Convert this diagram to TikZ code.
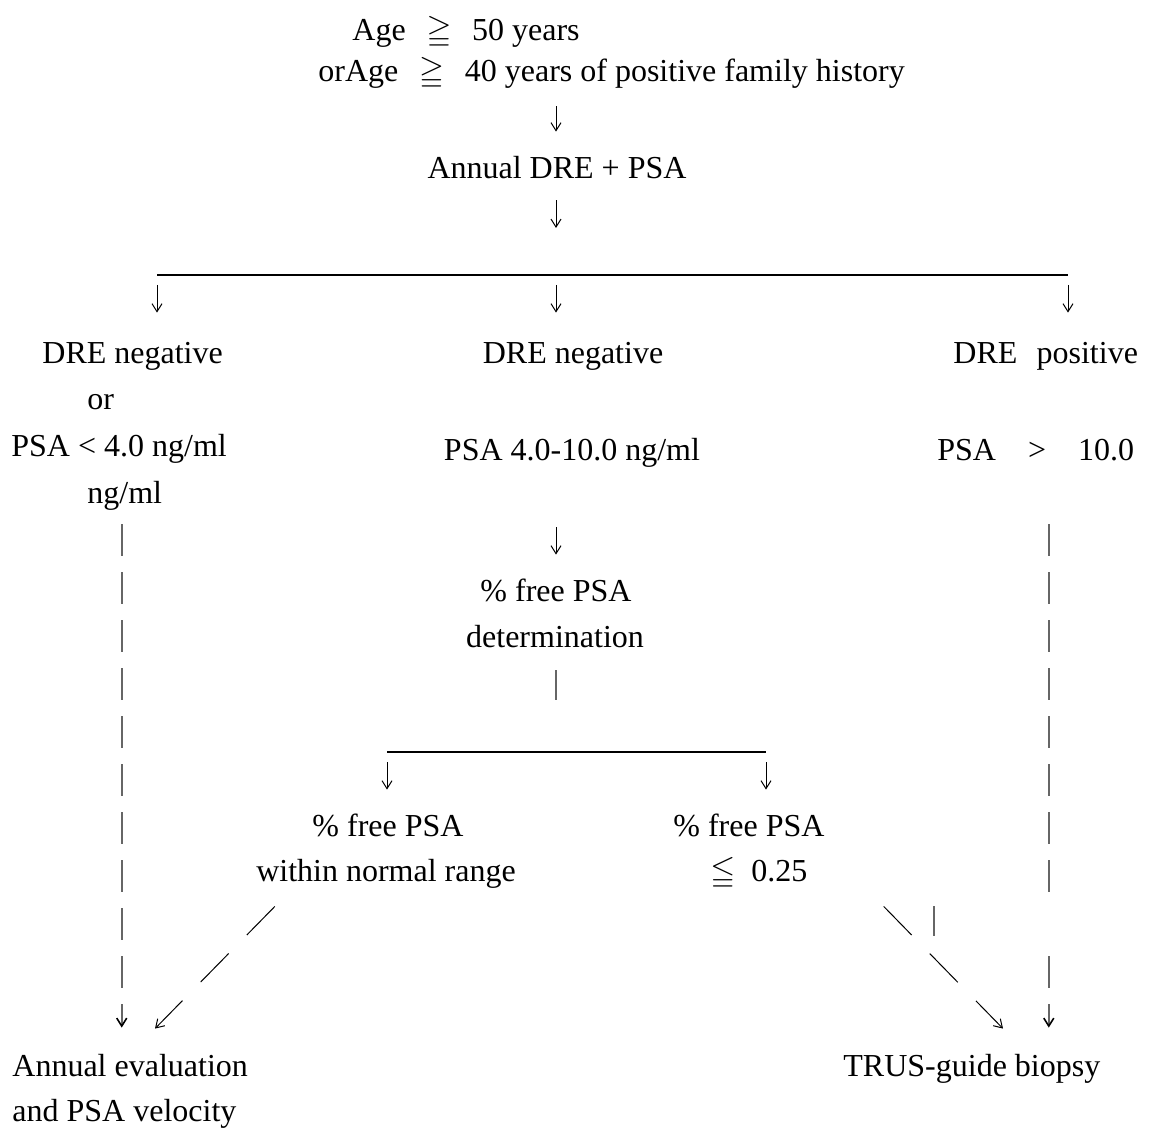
\documentclass[tikz,border=0pt]{standalone}
\usepackage{amssymb}
\usepackage{fontspec}
\setmainfont{Liberation Serif}
\usetikzlibrary{arrows.meta}

\begin{document}
\begin{tikzpicture}[x=0.5pt, y=-0.5pt]
% Définition des styles
    \tikzstyle{txt} = [inner sep=0pt, text height=11pt, text depth=3pt, font=\fontsize{16pt}{19pt}\selectfont]
    \tikzstyle{bus} = [draw, line width=1.3pt]
    \tikzstyle{line} = [draw, line width=0.5pt, -{Straight Barb[length=4pt, width=5pt]}]
    \tikzstyle{vline} = [draw, black!60, line width=0.8pt]
    \tikzstyle{dline} = [vline, dash pattern=on 16pt off 8pt, -{Straight Barb[length=4pt, width=5pt, color=black]}]
    \tikzstyle{diag} = [line, dash pattern=on 20pt off 13pt]

    \useasboundingbox (0,0) rectangle (1150,1133);

    % Critères d'entrée et dépistage annuel
    \node [txt, anchor=base west] (age) at (352,41) {Age\hspace{.65em}$\geqq$\hspace{.65em}50 years};
    \node [txt, anchor=base west] (agefam) at (318,82) {orAge\hspace{.65em}$\geqq$\hspace{.65em}40 years of positive family history};
    \node [txt, anchor=base] (annual) at (557,179) {Annual DRE + PSA};

    % Les trois branches
    \node [txt, anchor=base west] (negL) at (42,364) {DRE negative};
    \node [txt, anchor=base west] (orL) at (87,410) {or};
    \node [txt, anchor=base west] (psaL) at (11,457) {PSA < 4.0 ng/ml};
    \node [txt, anchor=base west] (unitL) at (87,503) {ng/ml};
    \node [txt, anchor=base] (negM) at (573,364) {DRE negative};
    \node [txt, anchor=base] (psaM) at (572,461) {PSA 4.0-10.0 ng/ml};
    \node [txt, anchor=base west] (posR) at (953,364) {DRE\hspace{.6em}positive};
    \node [txt, anchor=base west] (psaR) at (937,460) {PSA\hspace{1em}>\hspace{1em}10.0};

    % Dosage du PSA libre
    \node [txt, anchor=base] (free) at (556,601) {\% free PSA};
    \node [txt, anchor=base] (determ) at (555,647) {determination};
    \node [txt, anchor=base] (normal) at (388,836) {\% free PSA};
    \node [txt, anchor=base] (normalb) at (386,881) {within normal range};
    \node [txt, anchor=base west] (low) at (673,836) {\% free PSA};
    \node [txt, anchor=base west] (lowb) at (710,881) {$\leqq$\hspace{.5em}0.25};

    % Conduites à tenir
    \node [txt, anchor=base west] (evalA) at (12,1076) {Annual evaluation};
    \node [txt, anchor=base west] (evalB) at (12,1121) {and PSA velocity};
    \node [txt, anchor=base west] (biopsy) at (843,1076) {TRUS-guide biopsy};

    % Barres de répartition
    \coordinate (busL) at (157,275);
    \coordinate (busM) at (556,275);
    \coordinate (busR) at (1068,275);
    \coordinate (splitL) at (387,752);
    \coordinate (splitM) at (556,752);
    \coordinate (splitR) at (766,752);
    \coordinate (stray) at (934,906);
    \path [bus] (busL) -- (busR);
    \path [bus] (splitL) -- (splitR);

    % Connexions
    \path [line, shorten <=9pt, shorten >=12.5pt] (busM |- agefam.south) -- (busM |- annual.north);
    \path [line, shorten <=7.5pt, shorten >=23.5pt] (busM |- annual.south) -- (busM);
    \path [line, shorten <=5pt, shorten >=14.5pt] (busL) -- (busL |- negL.north);
    \path [line, shorten <=5pt, shorten >=14.5pt] (busM) -- (busM |- negM.north);
    \path [line, shorten <=5pt, shorten >=14.5pt] (busR) -- (busR |- posR.north);
    \path [line, shorten <=30pt, shorten >=12pt] (busM |- psaM.south) -- (busM |- free.north);
    \path [vline, shorten <=8.5pt, shorten >=26pt] (busM |- determ.south) -- (splitM);
    \path [line, shorten <=5pt, shorten >=12pt] (splitL) -- (splitL |- normal.north);
    \path [line, shorten <=5pt, shorten >=12pt] (splitR) -- (splitR |- low.north);

    % Colonnes en pointillés
    \path [dline, shorten <=7.5pt, shorten >=13pt] ([xshift=-1.5pt]unitL.south) -- ([xshift=-1.5pt]unitL.south |- evalA.north);
    \path [dline, dash pattern=on 16pt off 8pt on 16pt off 8pt on 16pt off 8pt on 16pt off 8pt on 16pt off 8pt on 16pt off 8pt on 16pt off 8pt on 16pt off 32pt on 16pt off 8pt, shorten <=29pt, shorten >=13pt] ([xshift=6.5pt]psaR.south) -- ([xshift=6.5pt]psaR.south |- biopsy.north);
    \path [vline] (stray) -- ++(0,30);

    % Diagonales
    \path [diag] ([xshift=9.5pt, yshift=-9.5pt]normalb.south west) -- ([xshift=71.5pt, yshift=12.5pt]evalA.north west);
    \path [diag] ([xshift=38pt, yshift=-9.5pt]lowb.south east) -- ([xshift=80pt, yshift=12.5pt]biopsy.north west);
\end{tikzpicture}
\end{document}
